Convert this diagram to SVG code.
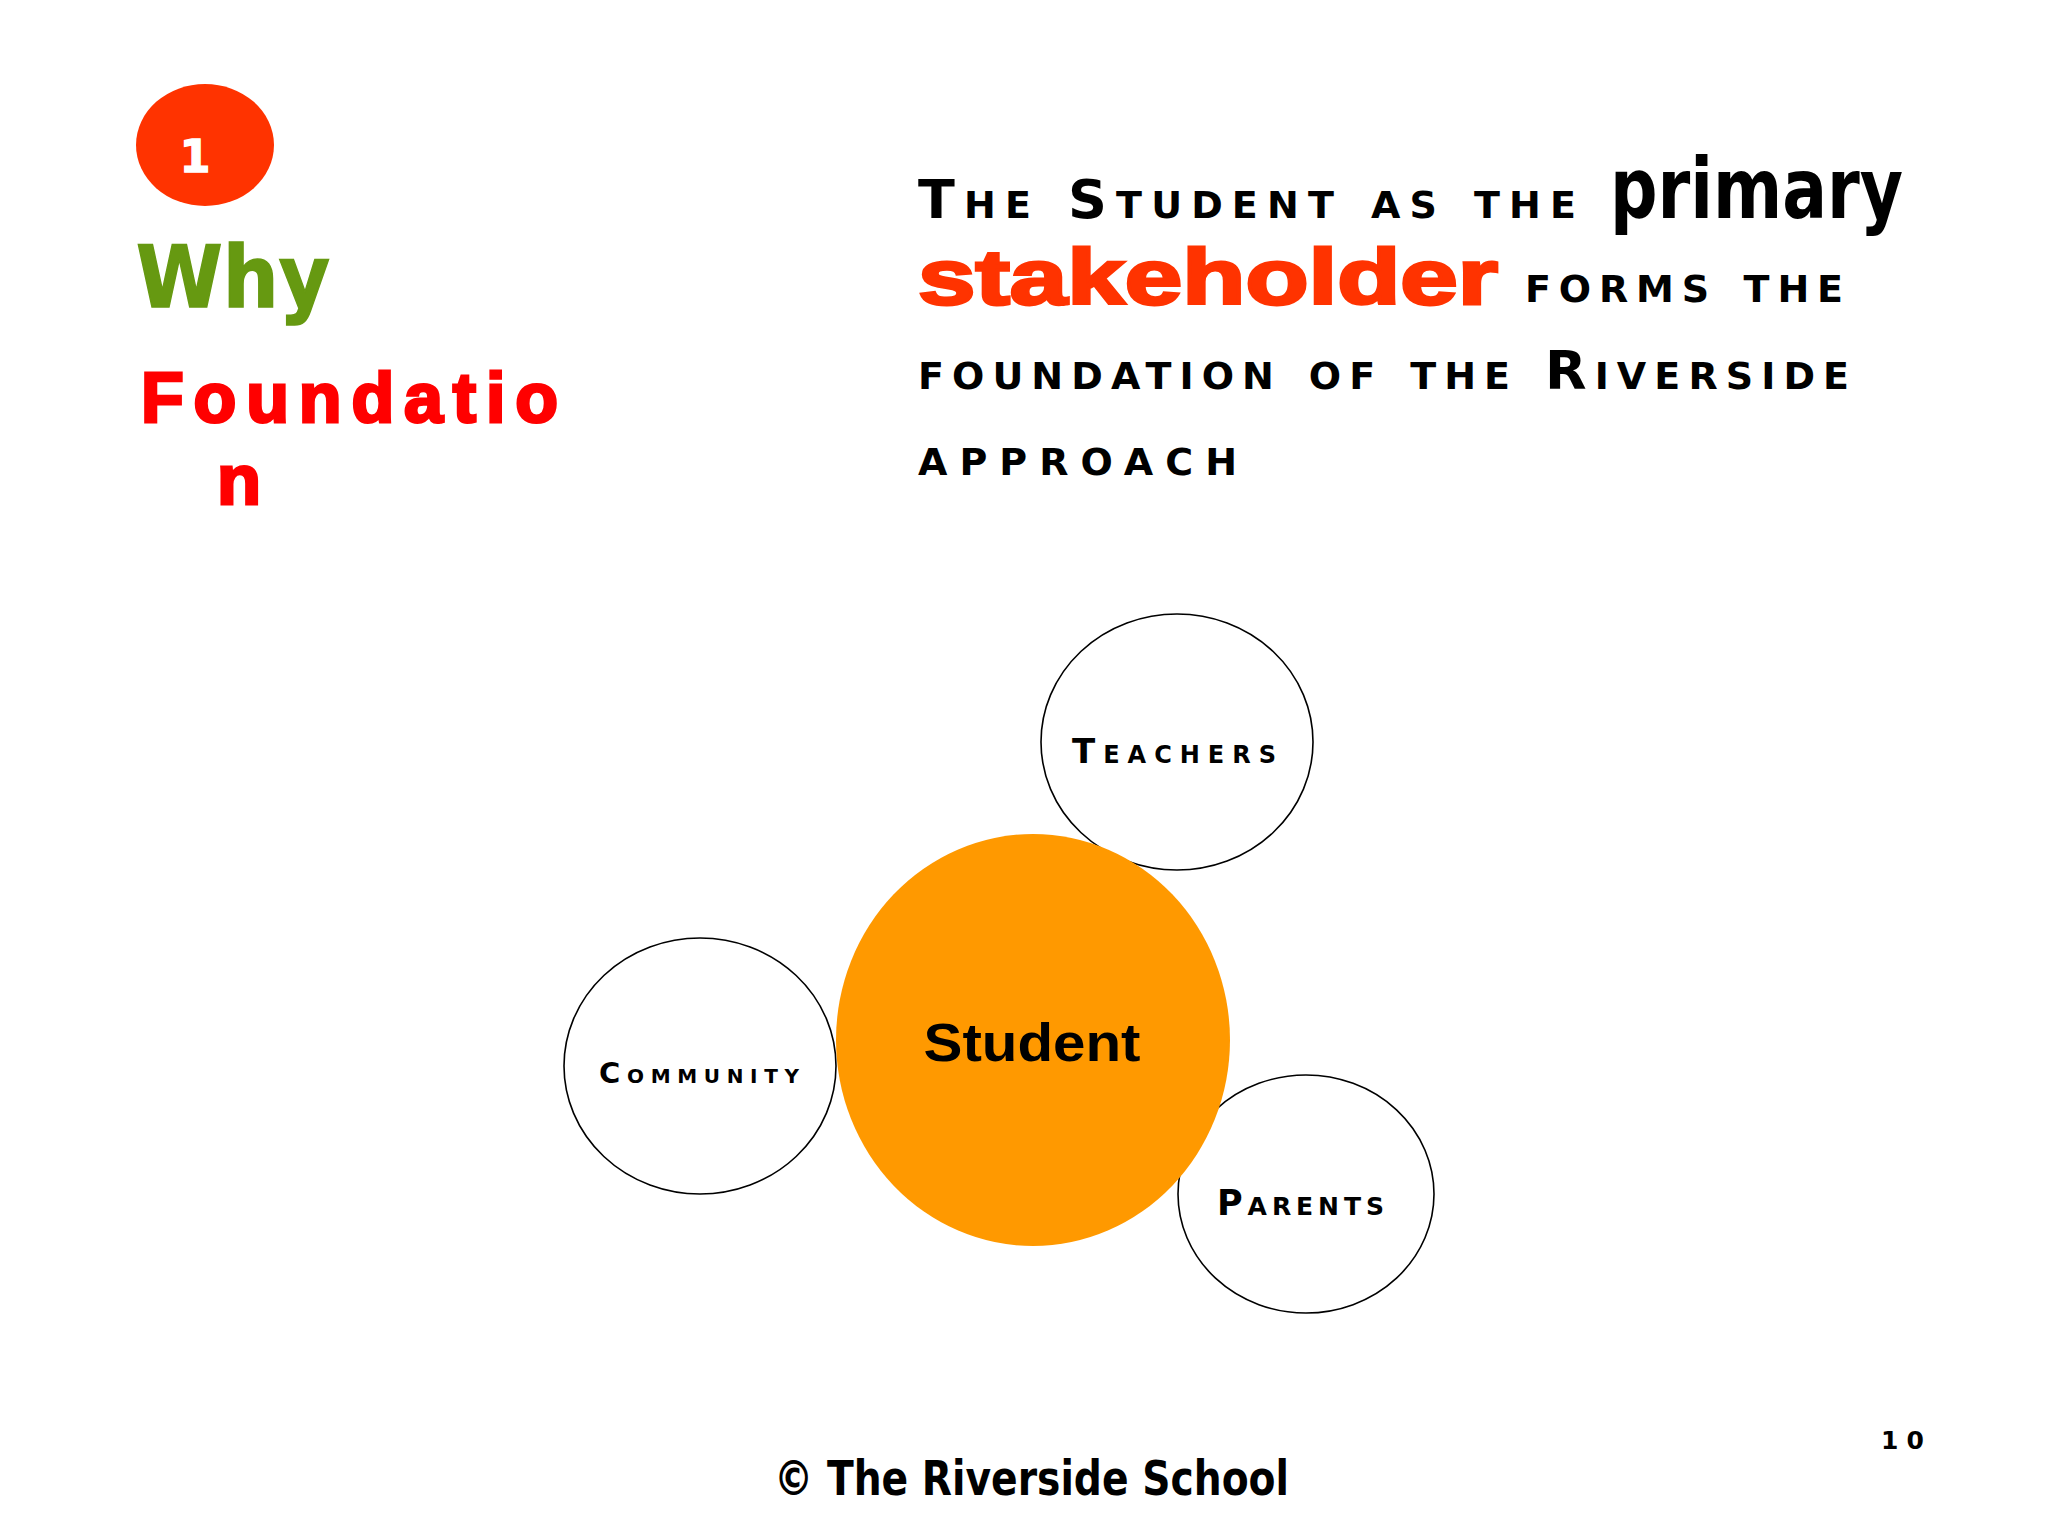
<svg xmlns="http://www.w3.org/2000/svg" width="2048" height="1536" viewBox="0 0 2048 1536">
<style>
.sc{font-family:"DejaVu Sans","Liberation Sans",sans-serif;font-weight:bold;font-variant:small-caps;font-size:54px;fill:#000}
.node{fill:#fff;stroke:#000;stroke-width:1.6}
.lbl{font-family:"DejaVu Sans","Liberation Sans",sans-serif;font-weight:bold;font-variant:small-caps;fill:#000}
</style>
<rect width="2048" height="1536" fill="#fff"/>
<g id="badge">
<ellipse cx="205" cy="145" rx="69" ry="61" fill="#ff3300"/>
<text x="195" y="172" text-anchor="middle" font-family="DejaVu Sans,sans-serif" font-weight="bold" font-size="44" fill="#fff" stroke="#fff" stroke-width="1.5">1</text>
</g>
<g id="heading">
<text x="136" y="307" font-family="DejaVu Sans,sans-serif" font-weight="bold" font-size="86" fill="#669911" stroke="#669911" stroke-width="1.5" textLength="194" lengthAdjust="spacingAndGlyphs">Why</text>
<text x="141" y="422" font-family="Liberation Sans,Arial,sans-serif" font-weight="bold" font-size="70" fill="#ff0000" stroke="#ff0000" stroke-width="3" textLength="417" lengthAdjust="spacing">Foundatio</text>
<text x="217" y="504" font-family="Liberation Sans,Arial,sans-serif" font-weight="bold" font-size="70" fill="#ff0000" stroke="#ff0000" stroke-width="3" textLength="44" lengthAdjust="spacingAndGlyphs">n</text>
</g>
<g id="title">
<text class="sc" x="918" y="218" textLength="658" lengthAdjust="spacing">The Student as the</text>
<text x="1610" y="218" font-family="DejaVu Sans Condensed,DejaVu Sans,sans-serif" font-weight="bold" font-size="84" fill="#000" textLength="293" lengthAdjust="spacingAndGlyphs">primary</text>
<text x="918" y="304" font-family="Liberation Sans,Arial,sans-serif" font-weight="bold" font-size="78" fill="#ff3300" stroke="#ff3300" stroke-width="3" textLength="580" lengthAdjust="spacingAndGlyphs">stakeholder</text>
<text class="sc" x="1525" y="302" textLength="318" lengthAdjust="spacing">forms the</text>
<text class="sc" x="918" y="389" textLength="931" lengthAdjust="spacing">foundation of the Riverside</text>
<text class="sc" x="918" y="475" textLength="319" lengthAdjust="spacing">approach</text>
</g>
<g id="connectors"></g>
<g id="teachers">
<ellipse class="node" cx="1177" cy="742" rx="136" ry="128"/>
<text class="lbl" x="1072" y="763" font-size="34" textLength="204" lengthAdjust="spacing">Teachers</text>
</g>
<g id="community">
<ellipse class="node" cx="700" cy="1066" rx="136" ry="128"/>
<text class="lbl" x="599" y="1083" font-size="29" textLength="200" lengthAdjust="spacing">Community</text>
</g>
<g id="parents">
<ellipse class="node" cx="1306" cy="1194" rx="128" ry="119"/>
<text class="lbl" x="1217" y="1215" font-size="35" textLength="167" lengthAdjust="spacing">Parents</text>
</g>
<g id="student">
<ellipse cx="1033" cy="1040" rx="197" ry="206" fill="#ff9900"/>
<text x="1032" y="1061" text-anchor="middle" font-family="Liberation Sans,Arial,sans-serif" font-weight="bold" font-size="54" fill="#000" textLength="217" lengthAdjust="spacingAndGlyphs">Student</text>
</g>
<g id="footer">
<text x="774" y="1495" font-family="DejaVu Sans Condensed,DejaVu Sans,sans-serif" font-weight="bold" font-size="48" fill="#000" textLength="515" lengthAdjust="spacingAndGlyphs">© The Riverside School</text>
<text x="1881" y="1449" font-family="DejaVu Sans,sans-serif" font-weight="bold" font-size="25" fill="#000" textLength="43" lengthAdjust="spacing">10</text>
</g>
</svg>
